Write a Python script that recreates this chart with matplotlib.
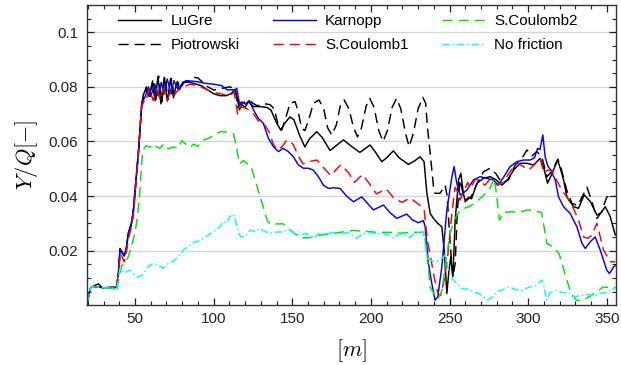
import matplotlib
matplotlib.use('Agg')
import matplotlib.pyplot as plt

plt.rcParams['font.family'] = ['Liberation Sans', 'DejaVu Sans']
plt.rcParams['mathtext.fontset'] = 'cm'

# LuGre
x_lugre = [19.3, 21.5, 23, 26.7, 29.3, 33, 38.4, 39.5, 40.5, 41.8, 43.2, 44.5, 45.7, 47.9, 49, 50, 52.1, 54.3,
           55.3, 57.2, 59, 61, 62.8, 64.6, 66.5, 68.6, 70.6, 72.6, 74.5, 76.5, 78.3, 80.5, 84, 88, 92, 96, 100,
           104, 108, 111, 113.5, 115, 116.4, 118, 120, 122.1, 125.3, 129.5, 133.8, 136.5, 140.1, 142.7, 145,
           148.5, 151, 154.5, 158, 161, 165.6, 169, 174, 178, 182.5, 187, 193, 199.5, 203, 206.9, 210, 214.3,
           218, 223.9, 228, 231.3, 233.8, 235.6, 237.7, 239.8, 242.5, 245.1, 246.6, 248.3, 249.5, 250.8, 252.1,
           253.6, 255.7, 257.2, 258.8, 260, 262, 264, 267.4, 271.6, 275.8, 279.5, 283.3, 287, 290.7, 294.9,
           299.2, 303.4, 307.6, 309.7, 312.3, 315, 318.7, 320.5, 322.5, 324.6, 328.8, 332, 335.6, 339.5, 343.7,
           346.5, 349, 352.2, 355.4]
y_lugre = [0, 0.0060, 0.0068, 0.0078, 0.0063, 0.0065, 0.0065, 0.012, 0.0205, 0.0192, 0.0180, 0.0205, 0.0258,
           0.0300, 0.0345, 0.0415, 0.0552, 0.0735,
           0.0770, 0.0800, 0.0765, 0.0815, 0.0750, 0.0838, 0.0738, 0.0835, 0.0748, 0.0830, 0.0760, 0.0815,
           0.0790, 0.0818, 0.0818, 0.0812, 0.0805, 0.0790, 0.0775,
           0.0768, 0.0768, 0.0775, 0.0789, 0.0760, 0.0716, 0.0735, 0.0725, 0.0746, 0.0728, 0.0728, 0.0725,
           0.0715, 0.0667, 0.0642, 0.0665,
           0.0690, 0.0680, 0.0625, 0.0580, 0.0610, 0.0636, 0.0615, 0.0567, 0.0585, 0.0606, 0.0585, 0.0560,
           0.0587, 0.0560, 0.0526, 0.0540, 0.0566,
           0.0540, 0.0516, 0.0530, 0.0544, 0.0526, 0.0410, 0.0336, 0.0318, 0.0300, 0.0287, 0.0202, 0.0043,
           0.0120, 0.0177, 0.0104,
           0.0312, 0.0459, 0.0483, 0.0410, 0.0379, 0.0395, 0.0390, 0.0447, 0.0465, 0.0471, 0.0460, 0.0440,
           0.0460, 0.0495, 0.0520,
           0.0520, 0.0514, 0.0538, 0.0508, 0.0447, 0.0480, 0.0532, 0.0500, 0.0459, 0.0397, 0.0361, 0.0355,
           0.0404, 0.0380, 0.0330,
           0.0340, 0.0361, 0.0324, 0.0257]

# Piotrowski
x_piot = [19.3, 21.5, 23, 27, 31, 35, 38.4, 39.5, 40.5, 41.8, 43.2, 44.5, 45.7, 47.9, 49, 50, 52.1, 54.3,
          55.5, 57.5, 59.5, 61.5, 63.3, 65, 67, 69, 71, 73, 75, 77, 79, 81, 84, 87.4, 90, 92.5, 95, 98, 100,
          103.8, 107.6, 110.1, 112.6, 114, 115.2, 117.7, 120, 122.7, 125, 127.8, 130, 132.8, 135.9, 138.5,
          141.5, 143.3, 145.5, 148.6, 151.8, 153.5, 156, 158, 160.5, 163.4, 167, 170, 172.5, 175.1, 178,
          180.5, 183, 186, 189, 191.5, 194, 197, 199.3, 202, 205, 207.7, 210.5, 213.5, 216.3, 219, 222,
          224.3, 227, 230, 233, 234.8, 236, 237.7, 239.8, 240.8, 244, 247.2, 248.5, 250.4, 252.1, 253.6,
          255, 256.7, 258.5, 261, 264, 267.5, 271.6, 275.8, 279.5, 283.3, 287.5, 291.7, 296, 299.2, 302.4,
          305.5, 308.7, 311.9, 315, 318.9, 321, 324.6, 327.8, 331.5, 334.5, 337.4, 340.5, 343.7, 346.5,
          350, 352.2, 355]
y_piot = [0, 0.0060, 0.0067, 0.0066, 0.0063, 0.0065, 0.0065, 0.012, 0.0205, 0.0192, 0.0180, 0.0205, 0.0258,
          0.0300, 0.0345, 0.0415, 0.0552, 0.0735,
          0.0765, 0.0795, 0.0770, 0.0830, 0.0755, 0.0840, 0.0745, 0.0838, 0.0755, 0.0832, 0.0770, 0.0820,
          0.0795, 0.0815, 0.0820, 0.0835, 0.0833, 0.0820, 0.0805, 0.0795, 0.0789,
          0.0792, 0.0798, 0.0800, 0.0797, 0.0790, 0.0725, 0.0740, 0.0745, 0.0750, 0.0740, 0.0731, 0.0735,
          0.0738, 0.0735, 0.0720,
          0.0650, 0.0642, 0.0680, 0.0740, 0.0746, 0.0715, 0.0648, 0.0640, 0.0680, 0.0740, 0.0752, 0.0720,
          0.0650, 0.0624, 0.0660,
          0.0730, 0.0752, 0.0720, 0.0650, 0.0617, 0.0650, 0.0730, 0.0758, 0.0725, 0.0640, 0.0600, 0.0640,
          0.0725, 0.0758, 0.0720, 0.0630,
          0.0581, 0.0630, 0.0720, 0.0762, 0.0740, 0.0650, 0.0557, 0.0434, 0.0410, 0.0410, 0.0440, 0.0400,
          0.0226, 0.0104, 0.0153,
          0.0350, 0.0459, 0.0410, 0.0385, 0.0400, 0.0445, 0.0489, 0.0502, 0.0482, 0.0447, 0.0460, 0.0514,
          0.0538, 0.0569, 0.0547,
          0.0563, 0.0544, 0.0471, 0.0490, 0.0535, 0.0500, 0.0420, 0.0373, 0.0365, 0.0400, 0.0432, 0.0380,
          0.0318, 0.0340,
          0.0397, 0.0397, 0.0400]

# Karnopp
x_karn = [19.3, 21.5, 23, 27, 31, 35, 38.4, 39.5, 40.5, 41.8, 43.2, 44.5, 45.7, 47.9, 49, 50, 52.1, 54.3,
          56.4, 58.5, 60, 62.6, 64.6, 66.7, 68.4, 70.5, 73, 74.7, 77.3, 79.8, 82.3, 85, 89.9, 95, 100, 105,
          108.8, 111.5, 113.6, 114.7, 116.4, 118, 120.2, 122.7, 125.3, 128.4, 131.6, 134.8, 138, 141.2, 144.3,
          147.5, 150.7, 153.9, 157.1, 160.2, 163.4, 166.6, 169.8, 173, 176.1, 180.4, 184.5, 188.9, 194.2, 198,
          201.6, 208, 212, 216.5, 222.8, 226.5, 230.2, 233.4, 234.5, 236.6, 238.7, 240.8, 242.5, 245.1, 248.3,
          251.5, 252.9, 254.6, 256.7, 258.5, 261, 265.2, 269.5, 273.5, 277.9, 281.1, 284.5, 288.5, 292.8, 297,
          301.3, 304, 306, 307.5, 309.3, 310.8, 312.5, 314.4, 317.2, 319.3, 322.5, 326.7, 331, 334.2, 336.3,
          339.4, 342.6, 345.8, 350, 351.7, 354.3, 355.5]
y_karn = [0, 0.0060, 0.0067, 0.0066, 0.0063, 0.0065, 0.0065, 0.012, 0.0208, 0.0195, 0.0183, 0.0210, 0.0264,
          0.0306, 0.0350, 0.0420, 0.0557, 0.0740,
          0.0764, 0.0800, 0.0765, 0.0810, 0.0768, 0.0817, 0.0774, 0.0829, 0.0774, 0.0823, 0.0792, 0.0810,
          0.0823, 0.0822, 0.0819, 0.0813, 0.0810, 0.0805,
          0.0789, 0.0790, 0.0789, 0.0795, 0.0740, 0.0745, 0.0737, 0.0750, 0.0716, 0.0685, 0.0667, 0.0612,
          0.0581, 0.0563, 0.0575,
          0.0563, 0.0544, 0.0514, 0.0502, 0.0502, 0.0495, 0.0471, 0.0440, 0.0428, 0.0430, 0.0428, 0.0400,
          0.0379, 0.0397, 0.0372,
          0.0349, 0.0367, 0.0340, 0.0318, 0.0334, 0.0312, 0.0302, 0.0310, 0.0287, 0.0153, 0.0080, 0.0018,
          0.0030, 0.0140, 0.0349,
          0.0470, 0.0508, 0.0447, 0.0404, 0.0410, 0.0422, 0.0459, 0.0471, 0.0465, 0.0459, 0.0440, 0.0470,
          0.0508, 0.0526, 0.0532,
          0.0532, 0.0540, 0.0575, 0.0570, 0.0624, 0.0544, 0.0510, 0.0495, 0.0459, 0.0397, 0.0361, 0.0336,
          0.0287, 0.0226, 0.0208,
          0.0232, 0.0250, 0.0202, 0.0128, 0.0116, 0.0140, 0.0145]

# S.Coulomb1
x_sc1 = [19.3, 21.5, 23, 27, 31, 35, 38.4, 39.5, 40.7, 42, 43.2, 44.5, 45.7, 47.9, 49, 50, 52.1, 54.3, 56.4,
         57, 59.1, 61.6, 63.6, 65.9, 67.9, 70.5, 72.7, 74.7, 77, 79.8, 84.8, 89.9, 95, 100, 105, 110, 113.1,
         115.2, 116.4, 118.9, 121.5, 125.3, 129.1, 132.8, 135.4, 137.9, 140.4, 143.4, 146.7, 150.5, 154.3,
         156.8, 160, 165.7, 170.7, 174.5, 180.8, 185.9, 189.6, 194.7, 199.7, 203.5, 209.8, 214.9, 219.9, 225,
         230, 233.8, 235.9, 237.6, 240.2, 242.7, 244.4, 246.5, 249, 251.5, 253.5, 255.3, 256.7, 258.5, 261.6,
         263.1, 266.7, 269.5, 272.5, 275.5, 280, 284, 288.5, 292.8, 296.5, 300.2, 303.5, 307.6, 310, 312.3,
         315, 318, 321.4, 324.6, 327.8, 332, 335.2, 338, 340.5, 343.7, 347.9, 352.2, 355.4]
y_sc1 = [0, 0.0060, 0.0067, 0.0066, 0.0063, 0.0065, 0.0065, 0.011, 0.0190, 0.0175, 0.0159, 0.0190, 0.0240,
         0.0290, 0.0330, 0.0400, 0.0550, 0.0730, 0.0755,
         0.0750, 0.0792, 0.0750, 0.0790, 0.0757, 0.0792, 0.0750, 0.0788, 0.0770, 0.0785, 0.0796, 0.0810,
         0.0805, 0.0792, 0.0780, 0.0774, 0.0768, 0.0780,
         0.0701, 0.0725, 0.0725, 0.0719, 0.0701, 0.0670, 0.0658, 0.0634, 0.0591, 0.0569, 0.0580, 0.0606,
         0.0590, 0.0542,
         0.0518, 0.0525, 0.0532, 0.0499, 0.0475, 0.0515, 0.0485, 0.0450, 0.0479, 0.0440, 0.0408, 0.0426,
         0.0390, 0.0377, 0.0393,
         0.0371, 0.0353, 0.0237, 0.0188, 0.0103, 0.0042, 0.0035, 0.0090, 0.0188, 0.0335, 0.0432, 0.0415,
         0.0385, 0.0410, 0.0450,
         0.0428, 0.0463, 0.0452, 0.0440, 0.0460, 0.0440, 0.0450, 0.0489, 0.0520, 0.0510, 0.0495, 0.0512,
         0.0538, 0.0485, 0.0495,
         0.0495, 0.0459, 0.0422, 0.0397, 0.0367, 0.0312, 0.0250, 0.0245, 0.0257, 0.0300, 0.0202, 0.0159,
         0.0159]

# S.Coulomb2
x_sc2 = [19.3, 21.5, 23, 27, 31, 35, 37, 38.5, 40, 41.5, 43.2, 45.7, 47.5, 50, 51.5, 53.2, 54, 55, 57, 59.6,
         61.5, 63.4, 65.9, 68.4, 71, 74.7, 77.3, 79.8, 82.3, 84.8, 87.4, 89.9, 93.7, 97.5, 101.3, 105, 108.8,
         112.6, 114.6, 116.4, 118.9, 121.5, 124, 126.5, 129, 131.6, 134.1, 136.6, 140.4, 144.2, 146.7, 151.8,
         155.6, 160.6, 165.7, 173.2, 180.8, 188.4, 196, 203.5, 211.1, 218.7, 226.3, 233.8, 235.9, 237.6,
         240.2, 242.7, 245.2, 247.7, 250.3, 252.8, 255.3, 257.8, 261.6, 265.4, 270.5, 275.5, 278.5, 280,
         281.7, 284.3, 289.4, 294.4, 299.5, 304.6, 308.5, 310, 311.9, 315.8, 319.7, 322.2, 324.7, 327.3,
         331, 335.2, 339.9, 343.7, 347.5, 352.5, 355.5]
y_sc2 = [0, 0.0060, 0.0067, 0.0066, 0.0063, 0.0063, 0.0058, 0.0049, 0.0110, 0.0144, 0.0151, 0.0177, 0.0210,
         0.0264, 0.0320, 0.0420, 0.0500, 0.0567, 0.0585, 0.0579,
         0.0590, 0.0582, 0.0575, 0.0591, 0.0573, 0.0580, 0.0575, 0.0603, 0.0590, 0.0579, 0.0590, 0.0582,
         0.0606, 0.0613, 0.0628, 0.0637, 0.0634,
         0.0628, 0.0579, 0.0518, 0.0530, 0.0518, 0.0505, 0.0457, 0.0408, 0.0359, 0.0310, 0.0295, 0.0298,
         0.0298, 0.0286, 0.0261,
         0.0247, 0.0247, 0.0255, 0.0261, 0.0267, 0.0274, 0.0271, 0.0267, 0.0267, 0.0264, 0.0267, 0.0267,
         0.0176, 0.0066,
         0.0042, 0.0023, 0.0054, 0.0164, 0.0261, 0.0310, 0.0335, 0.0353, 0.0359, 0.0371, 0.0396, 0.0426,
         0.0465, 0.0400,
         0.0312, 0.0340, 0.0342, 0.0341, 0.0349, 0.0345, 0.0340, 0.0290, 0.0226, 0.0214, 0.0188, 0.0139,
         0.0090, 0.0042,
         0.0017, 0.0018, 0.0035, 0.0049, 0.0066, 0.0065, 0.0065]

# No friction
x_nf = [19.3, 21.5, 23, 27, 31, 35, 38.4, 39.5, 40.5, 42, 43.6, 45, 46.8, 48.5, 50, 52.1, 54.5, 56.5, 58.5,
        61.6, 64.5, 68, 71.2, 74, 77.5, 80.7, 84, 88.2, 91, 94.5, 97.7, 100, 104, 106.2, 108, 110.4, 112.1,
        113.5, 115, 116.4, 117.9, 120, 123.2, 126, 129.5, 132.5, 135.9, 140, 144.3, 147.5, 151, 155, 159,
        163.4, 167, 171, 176.1, 180, 185, 191, 195, 200, 205, 210, 214.6, 218, 222, 225, 228, 233.4, 235.6,
        237.7, 240.8, 244, 247.2, 249.3, 251.5, 254.6, 257.8, 261, 265.2, 269.5, 273.8, 277, 280, 283.5,
        287.5, 292, 296, 299, 301.3, 305, 308.7, 310, 311.5, 314, 318, 322, 325.5, 328.8, 333, 337.5, 342,
        346.5, 350, 353.2, 355.5]
y_nf = [0, 0.0060, 0.0067, 0.0066, 0.0063, 0.0063, 0.0060, 0.0100, 0.0135, 0.0125, 0.0116, 0.0125, 0.0128,
        0.0118, 0.0110, 0.0102, 0.0110, 0.0125, 0.0141,
        0.0153, 0.0148, 0.0135, 0.0153, 0.0160, 0.0177, 0.0202, 0.0215, 0.0232, 0.0235, 0.0250, 0.0260,
        0.0270, 0.0287, 0.0306, 0.0300, 0.0324, 0.0334,
        0.0320, 0.0285, 0.0257, 0.0250, 0.0252, 0.0275, 0.0270, 0.0281, 0.0270, 0.0263, 0.0268, 0.0268,
        0.0278, 0.0265, 0.0257, 0.0262,
        0.0245, 0.0262, 0.0262, 0.0266, 0.0262, 0.0266, 0.0245, 0.0262, 0.0265, 0.0262, 0.0260, 0.0245,
        0.0262, 0.0255, 0.0248, 0.0265, 0.0269, 0.0177,
        0.0165, 0.0159, 0.0165, 0.0183, 0.0128, 0.0098, 0.0080, 0.0061, 0.0059, 0.0049, 0.0040, 0.0018,
        0.0028, 0.0049, 0.0055,
        0.0067, 0.0058, 0.0053, 0.0062, 0.0067, 0.0072, 0.0092, 0.0070, 0.0018, 0.0045, 0.0055, 0.0045,
        0.0047, 0.0030, 0.0035, 0.0040, 0.0032,
        0.0045, 0.0045, 0.0061, 0.0058]

fig = plt.figure(figsize=(6.21, 3.65), dpi=100)
ax = fig.add_axes([0.1396, 0.164, 0.852, 0.822])

lw = 1.05
ax.plot(x_lugre, y_lugre, color='black', lw=lw, label='LuGre')
ax.plot(x_piot, y_piot, color='black', lw=lw, dashes=(7, 4), label='Piotrowski')
ax.plot(x_karn, y_karn, color='#0000ff', lw=lw, label='Karnopp')
ax.plot(x_sc1, y_sc1, color='#ff0000', lw=lw, dashes=(7, 4), label='S.Coulomb1')
ax.plot(x_sc2, y_sc2, color='#00e600', lw=lw, dashes=(7, 4), label='S.Coulomb2')
ax.plot(x_nf, y_nf, color='#00ffff', lw=lw, dashes=(5, 2, 1, 2), label='No friction')

ax.set_xlim(19.3, 355.7)
ax.set_ylim(0, 0.11)
ax.set_xticks([50, 100, 150, 200, 250, 300, 350])
ax.set_xticks(range(20, 360, 10), minor=True)
ax.set_yticks([0.02, 0.04, 0.06, 0.08, 0.1])
ax.set_yticklabels(['0.02', '0.04', '0.06', '0.08', '0.1'])
ax.set_yticks([0.005 * i for i in range(1, 22)], minor=True)
ax.tick_params(which='both', direction='in', top=True, right=True, labelsize=11, colors='#222222')
ax.tick_params(which='major', length=5, width=0.9)
ax.tick_params(which='minor', length=3, width=0.8)
ax.tick_params(axis='y', pad=6)
ax.tick_params(axis='x', pad=5)
ax.grid(True, axis='y', which='major', color='#d4d4d4', lw=0.9)
ax.set_axisbelow(True)
for s in ax.spines.values():
    s.set_linewidth(1.0)
    s.set_color('#333333')

ax.set_ylabel(r'$Y/Q[-]$', fontsize=16, labelpad=6)
ax.set_xlabel(r'$[m]$', fontsize=16, labelpad=8)

ax.legend(ncol=3, loc='upper left', bbox_to_anchor=(0.06, 0.97), frameon=False, fontsize=11,
          handlelength=2.8, handletextpad=0.6, columnspacing=2.2, labelspacing=0.65,
          borderpad=0, borderaxespad=0)

fig.savefig('out.png', dpi=100)
